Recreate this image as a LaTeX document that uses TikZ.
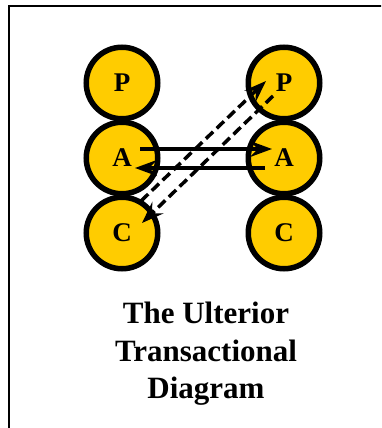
\documentclass[tikz,border=0pt]{standalone}
\usepackage{fontspec}
\setmainfont{Liberation Serif}
\usetikzlibrary{arrows.meta}
\definecolor{egogold}{HTML}{FFCC00}
\tikzset{
  ego/.style={circle,draw,line width=5.5pt,fill=egogold,minimum size=71.5pt,inner sep=0pt,
    font=\bfseries\fontsize{27}{27}\selectfont},
  msg/.style={line width=3.5pt,-{Stealth[length=22pt,width=16pt,inset=8pt]}},
  hidden/.style={msg,dash pattern=on 10pt off 5pt},
  title/.style={anchor=base,font=\bfseries\fontsize{31}{37}\selectfont}
}
\begin{document}
\begin{tikzpicture}[x=1pt,y=-1pt]
	\useasboundingbox (0,0) rectangle (381,428);
	\clip (0,0) rectangle (381,428);
	\draw[line width=2pt] (9,6) rectangle (420,460);
	\node[ego] (lp) at (122,83) {P};
	\node[ego] (la) at (122,158) {A};
	\node[ego] (lc) at (122,233) {C};
	\node[ego] (rp) at (284,83) {P};
	\node[ego] (ra) at (284,158) {A};
	\node[ego] (rc) at (284,233) {C};
	% social level
	\coordinate (s1) at (140,149);
	\coordinate (e1) at (272,149);
	\coordinate (s2) at (265,168);
	\coordinate (e2) at (135,168);
	\draw[msg] (s1) -- (e1);
	\draw[msg] (s2) -- (e2);
	% psychological level
	\coordinate (d1) at (141,201);
	\coordinate (f1) at (266,81);
	\coordinate (d2) at (273,96);
	\coordinate (f2) at (142,223);
	\draw[hidden] (d1) -- (f1);
	\draw[hidden] (d2) -- (f2);
	\node[title] (t1) at (206,323) {The Ulterior};
	\node[title] (t2) at (206,361) {Transactional};
	\node[title] (t3) at (206,398) {Diagram};
\end{tikzpicture}
\end{document}
